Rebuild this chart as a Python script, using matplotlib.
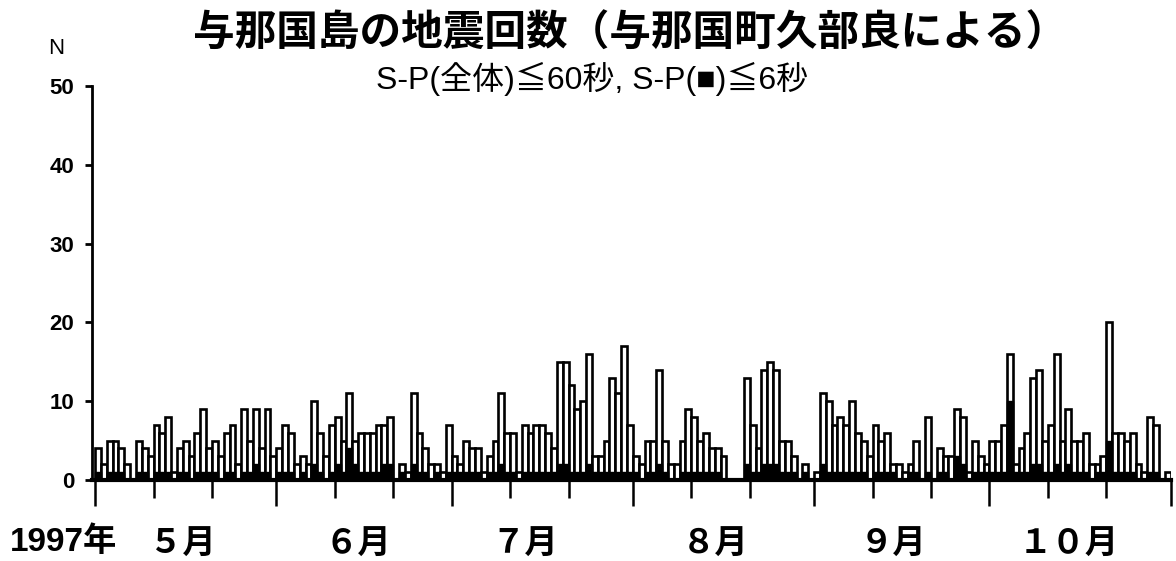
import matplotlib
matplotlib.use("Agg")
import matplotlib.pyplot as plt
import matplotlib.dates as mdates
import matplotlib.transforms as mtransforms
import pandas as pd

plt.rcParams['font.family'] = ['Liberation Sans', 'Noto Sans CJK JP']

# daily counts, S-P <= 60 s (all events)
may_all = [4, 2, 5, 5, 4, 2, 0, 5, 4, 3, 7, 6, 8, 1, 4, 5, 3, 6, 9, 4, 5, 3, 6, 7, 2, 9, 5, 9, 4, 9, 3]
jun_all = [4, 7, 6, 2, 3, 2, 10, 6, 3, 7, 8, 5, 11, 5, 6, 6, 6, 7, 7, 8, 0, 2, 1, 11, 6, 4, 2, 2, 1, 7]
jul_all = [3, 2, 5, 4, 4, 1, 3, 5, 11, 6, 6, 1, 7, 6, 7, 7, 6, 4, 15, 15, 12, 9, 10, 16, 3, 3, 5, 13, 11, 17, 7]
aug_all = [3, 2, 5, 5, 14, 5, 2, 2, 5, 9, 8, 5, 6, 4, 4, 3, 0, 0, 0, 13, 7, 4, 14, 15, 14, 5, 5, 3, 0, 2, 0]
sep_all = [1, 11, 10, 7, 8, 7, 10, 6, 5, 3, 7, 5, 6, 2, 2, 1, 2, 5, 0, 8, 0, 4, 3, 3, 9, 8, 1, 5, 3, 2]
oct_all = [5, 5, 7, 16, 2, 4, 6, 13, 14, 5, 7, 16, 5, 9, 5, 5, 6, 2, 2, 3, 20, 6, 6, 5, 6, 2, 1, 8, 7, 0, 1]

# daily counts, S-P <= 6 s (black)
may_near = [1, 0, 1, 1, 1, 0, 0, 1, 1, 0, 1, 1, 1, 0, 1, 1, 0, 1, 1, 1, 1, 0, 1, 1, 0, 1, 1, 2, 1, 1, 0]
jun_near = [1, 1, 1, 0, 1, 0, 2, 1, 0, 1, 2, 1, 4, 2, 1, 1, 1, 1, 2, 2, 0, 1, 0, 2, 1, 1, 0, 1, 0, 1]
jul_near = [1, 1, 1, 1, 1, 0, 1, 1, 2, 1, 1, 0, 1, 1, 1, 1, 1, 1, 2, 2, 1, 1, 1, 2, 1, 1, 1, 1, 1, 1, 1]
aug_near = [1, 0, 1, 1, 2, 1, 0, 0, 1, 1, 1, 1, 1, 1, 1, 0, 0, 0, 0, 2, 1, 1, 2, 2, 2, 1, 1, 1, 0, 1, 0]
sep_near = [0, 2, 1, 1, 1, 1, 1, 1, 1, 0, 1, 1, 1, 1, 0, 0, 1, 1, 0, 1, 0, 1, 1, 0, 3, 2, 0, 1, 1, 1]
oct_near = [1, 1, 1, 10, 1, 1, 1, 2, 2, 1, 1, 2, 1, 2, 1, 1, 1, 0, 1, 1, 5, 1, 1, 1, 1, 0, 0, 1, 1, 0, 0]

month_labels = ['５月', '６月', '７月', '８月', '９月', '１０月']
label_days = ['1997-05-16', '1997-06-15', '1997-07-13 12:00', '1997-08-15', '1997-09-14 12:00', '1997-10-14 12:00']

total = may_all + jun_all + jul_all + aug_all + sep_all + oct_all
near = may_near + jun_near + jul_near + aug_near + sep_near + oct_near
days = pd.date_range('1997-05-01', '1997-10-31', freq='D')

fig = plt.figure(figsize=(11.76, 5.61), dpi=100)
ax = fig.add_axes([92.4 / 1176, 81 / 561, 1078.7 / 1176, 394 / 561])

ax.bar(days, total, width=1.0, align='edge', color='white', edgecolor='black', linewidth=1.9)
ax.bar(days, near, width=1.0, align='edge', color='black', edgecolor='black', linewidth=1.0)

ax.set_xlim(pd.Timestamp('1997-05-01') - pd.Timedelta(hours=11),
            pd.Timestamp('1997-11-01') + pd.Timedelta(hours=2))
ax.set_ylim(0, 50)

for s in ['top', 'right']:
    ax.spines[s].set_visible(False)
ax.spines['left'].set_linewidth(2)
ax.spines['bottom'].set_linewidth(3)

ax.set_yticks(range(0, 51, 10))
ax.tick_params(axis='y', direction='out', length=5, width=2, labelsize=16, pad=8)
for t in ax.get_yticklabels():
    t.set_fontweight('bold')

ax.xaxis.set_major_locator(mdates.MonthLocator())
ax.xaxis.set_minor_locator(mdates.DayLocator(bymonthday=[11, 21]))
ax.xaxis.set_major_formatter(plt.NullFormatter())
ax.tick_params(axis='x', which='major', direction='out', length=19, width=1.8)
ax.tick_params(axis='x', which='minor', direction='out', length=13, width=1.8)

trans = mtransforms.blended_transform_factory(ax.transData, ax.transAxes)
for lab, d in zip(month_labels, label_days):
    ax.text(mdates.date2num(pd.Timestamp(d)), -0.165, lab, transform=trans,
            ha='center', va='center', fontsize=24, fontweight='bold')

fig.text(10 / 1176, 1 - 542 / 561, '1997年', ha='left', va='center', fontsize=24, fontweight='bold')
fig.text(56 / 1176, 1 - 48 / 561, 'N', ha='center', va='center', fontsize=16)

fig.text(630 / 1176, 1 - 35 / 561, '与那国島の地震回数（与那国町久部良による）',
         ha='center', va='center', fontsize=30, fontweight='bold')
fig.text(592 / 1176, 1 - 79 / 561, 'S-P(全体)≦60秒, S-P(■)≦6秒',
         ha='center', va='center', fontsize=23)

fig.savefig('out.png', dpi=100)
